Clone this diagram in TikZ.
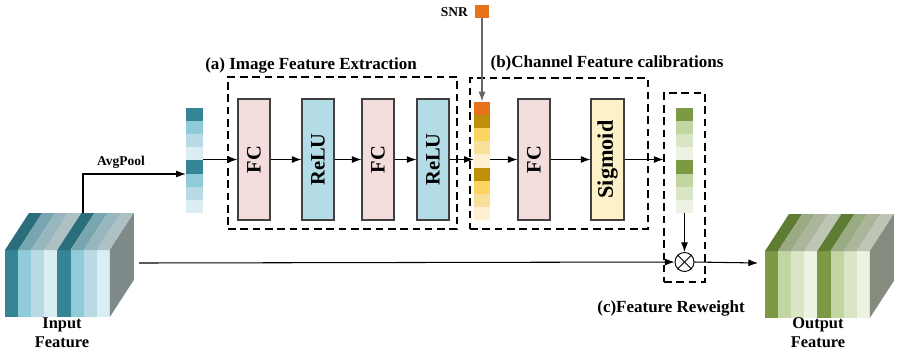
\documentclass[tikz,border=0pt]{standalone}
\usepackage{fontspec}
\usepackage{graphicx}
\setmainfont{Liberation Serif}
\usetikzlibrary{arrows.meta}

% colours of the feature maps
\definecolor{inA}{HTML}{358597}
\definecolor{inB}{HTML}{8FCBD9}
\definecolor{inC}{HTML}{B7DAE4}
\definecolor{inD}{HTML}{DAEDF3}
\definecolor{intopA}{HTML}{2A6E7C}
\definecolor{intopB}{HTML}{78A6B0}
\definecolor{intopC}{HTML}{97B6BD}
\definecolor{intopD}{HTML}{ADC0C4}
\definecolor{inside}{HTML}{7E8A89}
\definecolor{outA}{HTML}{7B9A43}
\definecolor{outB}{HTML}{C2D6A1}
\definecolor{outC}{HTML}{DAE5C5}
\definecolor{outD}{HTML}{EDF3E3}
\definecolor{outtopA}{HTML}{5F7C34}
\definecolor{outtopB}{HTML}{9AAB83}
\definecolor{outtopC}{HTML}{AAB59C}
\definecolor{outtopD}{HTML}{BEC5B5}
\definecolor{outside}{HTML}{868B80}
\definecolor{snrA}{HTML}{E8711C}
\definecolor{snrB}{HTML}{BF8F0A}
\definecolor{snrC}{HTML}{FCD461}
\definecolor{snrD}{HTML}{F9E09A}
\definecolor{snrE}{HTML}{FDF1CF}
\definecolor{fcfill}{HTML}{F3DCDC}
\definecolor{relufill}{HTML}{B4DCE6}
\definecolor{sigfill}{HTML}{FDF1C9}

% cube: #1 = left x, #2 = top y of front face, #3 = colour prefix
\newcommand{\featcube}[3]{
\foreach \c [count=\i from 0] in {A,B,C,D,A,B,C,D} {
  \fill[#3\c] (#1+13.1*\i,#2) rectangle ++(13.1,67);
  \fill[#3top\c] (#1+13.1*\i,#2) -- ++(13.1,0) -- ++(24,-37) -- ++(-13.1,0) -- cycle;
}
\fill[#3side] (#1+104.8,#2) -- ++(24,-37) -- ++(0,67) -- ++(-24,37) -- cycle;
}

\begin{document}
\begin{tikzpicture}[x=0.03cm,y=-0.03cm,
  >={Latex[length=2.9mm,width=2.1mm]},
  line/.style={line width=0.9pt},
  block/.style={draw=black!75,line width=0.9pt,minimum width=0.96cm,minimum height=3.63cm,inner sep=0pt,font=\fontsize{17.5}{17.5}\selectfont\bfseries},
  group/.style={draw,dashed,dash pattern=on 6.5pt off 4pt,line width=0.9pt,inner sep=0pt},
  title/.style={font=\fontsize{14.5}{14.5}\selectfont\bfseries},
  label/.style={font=\fontsize{14}{16}\selectfont\bfseries,align=center},
  small/.style={font=\fontsize{11.5}{11.5}\selectfont\bfseries},
  vec/.style={inner sep=0pt,minimum width=0.51cm}]
\useasboundingbox (0,0) rectangle (901,354);

% input and output feature maps
\featcube{5}{250}{in}
\featcube{765}{251}{out}
\coordinate (intop) at (83,213);
\coordinate (inright) at (139,263);
\coordinate (outleft) at (758,263);
\node[label] (inlabel) at (62,333) {Input\\Feature};
\node[label] (outlabel) at (818,333) {Output\\Feature};

% pooled vector
\foreach \c [count=\i from 0] in {A,B,C,D,A,B,C,D}
  \fill[in\c] (186,108+13.1*\i) rectangle ++(17,13.1);
\node[vec,minimum height=3.15cm] (pool) at (194.5,160.5) {};
\node[small] (avg) at (121,162) {AvgPool};

% (a) image feature extraction
\node[group,minimum width=6.87cm,minimum height=4.56cm] (boxa) at (342.5,153) {};
\node[title] (titlea) at (311,65) {(a) Image Feature Extraction};
\node[block,fill=fcfill] (fc1) at (254,159.5) {\rotatebox{90}{FC}};
\node[block,fill=relufill] (relu1) at (318,159.5) {\rotatebox{90}{ReLU}};
\node[block,fill=fcfill] (fc2) at (378,159.5) {\rotatebox{90}{FC}};
\node[block,fill=relufill] (relu2) at (433,159.5) {\rotatebox{90}{ReLU}};

% (b) channel feature calibrations
\node[group,minimum width=5.34cm,minimum height=4.53cm] (boxb) at (559,153.5) {};
\node[title] (titleb) at (607,63) {(b)Channel Feature calibrations};
\foreach \c [count=\i from 0] in {A,B,C,D,E,B,C,D,E}
  \fill[snr\c] (474,101.5+13.2*\i) rectangle ++(16,13.2);
\node[vec,minimum width=0.48cm,minimum height=3.56cm] (snrvec) at (482,160.9) {};
\node[inner sep=0pt,minimum size=0.4cm,fill=snrA] (snr) at (482,11.5) {};
\node[small,anchor=east] (snrtext) at (472,12) {SNR};
\node[block,fill=fcfill] (fc3) at (534,159.5) {\rotatebox{90}{FC}};
\node[block,fill=sigfill,minimum width=0.99cm,font=\fontsize{19}{19}\selectfont\bfseries] (sig) at (607.5,159.5) {\rotatebox{90}{Sigmoid}};

% (c) feature reweight
\node[group,minimum width=1.23cm,minimum height=5.67cm] (boxc) at (684.5,187.5) {};
\node[title] (titlec) at (671,308) {(c)Feature Reweight};
\foreach \c [count=\i from 0] in {A,B,C,D,A,B,C,D}
  \fill[out\c] (676,108+13.1*\i) rectangle ++(17,13.1);
\node[vec,minimum height=3.15cm] (weight) at (684.5,160.5) {};
\node[circle,draw,line width=0.8pt,minimum size=0.57cm,inner sep=0pt] (mul) at (684.5,262) {};
\draw[line width=0.7pt] (mul.north west) -- (mul.south east);
\draw[line width=0.7pt] (mul.north east) -- (mul.south west);

% connectors
\draw[line,->] (intop) |- (pool.west |- 0,174);
\draw[line,->] (pool.east |- fc1.west) -- (fc1.west);
\draw[line,->] (fc1) -- (relu1);
\draw[line,->] (relu1) -- (fc2);
\draw[line,->] (fc2) -- (relu2);
\draw[line,->] (relu2.east) -- (snrvec.west |- relu2.east);
\draw[line,->] (snrvec.east |- fc3.west) -- (fc3.west);
\draw[line,->] (fc3) -- (sig);
\draw[line,->] (sig.east) -- (sig.east -| boxc.west);
\draw[line,->,black!60] (snr.south) -- (snrvec.north);
\draw[line,->] (weight.south) -- (mul.north);
\draw[line,->] (inright) -- (mul.west);
\draw[line,->] (mul.east) -- (outleft);
\end{tikzpicture}
\end{document}
